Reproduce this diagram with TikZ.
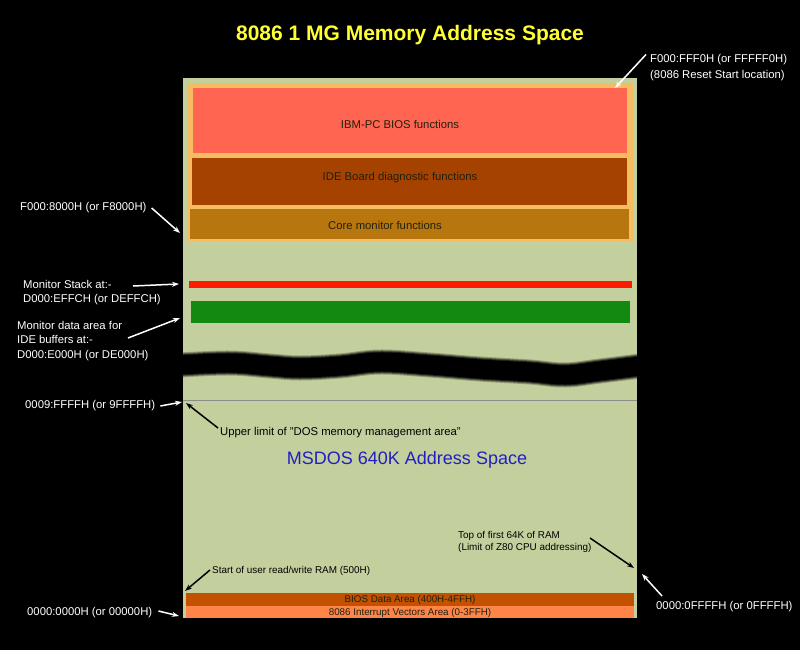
\documentclass[tikz,border=0pt]{standalone}
\usepackage{fontspec}
\setmainfont{Liberation Sans}
\usetikzlibrary{arrows.meta}
\definecolor{panel}{HTML}{C4CF9E}
\definecolor{romband}{HTML}{F6BC62}
\definecolor{biosbox}{HTML}{FF6550}
\definecolor{idebox}{HTML}{A64200}
\definecolor{corebox}{HTML}{B8760E}
\definecolor{stackred}{HTML}{FF1A00}
\definecolor{datagreen}{HTML}{128A12}
\definecolor{biosdata}{HTML}{C25100}
\definecolor{intvec}{HTML}{FF8448}
\definecolor{titleyellow}{HTML}{FFFF33}
\definecolor{dosblue}{HTML}{2020C0}
\definecolor{txtdark}{HTML}{202010}
\begin{document}
\begin{tikzpicture}[x=1pt,y=-1pt,
  wlbl/.style={font=\fontsize{11.3}{14.5}\selectfont, text=white, inner sep=0, align=left},
  dlbl/.style={font=\fontsize{11.3}{14.5}\selectfont, text=black, inner sep=0, align=left},
  slbl/.style={font=\fontsize{9.9}{12.3}\selectfont, text=black, inner sep=0, align=left},
  boxtxt/.style={font=\fontsize{11.3}{13}\selectfont, text=txtdark, inner sep=0},
  sboxtxt/.style={font=\fontsize{9.8}{12}\selectfont, text=txtdark, inner sep=0},
  warrow/.style={draw=white, line width=1.5pt, -{Stealth[length=7pt,width=5pt]}},
  barrow/.style={draw=black, line width=1.5pt, -{Stealth[length=7pt,width=5pt]}},
  smudge/.style={draw=black, line cap=butt}]
\fill[black] (0,0) rectangle (800,650);
\useasboundingbox (0,0) rectangle (800,650);
% title
\node[font=\bfseries\fontsize{21}{24}\selectfont, text=titleyellow, inner sep=0] (title) at (410,35) {8086 1 MG Memory Address Space};
% main panel
\fill[panel] (183,78) rectangle (637,618);
\fill[romband] (187,83) rectangle (633,241);
\fill[biosbox] (193,88) rectangle (627,153);
\fill[idebox] (192,158) rectangle (627,205);
\fill[corebox] (190,209) rectangle (629,239);
\node[boxtxt] (bios) at (400,124) {IBM-PC BIOS functions};
\node[boxtxt] (ide) at (400,178) {IDE Board diagnostic functions};
\node[boxtxt] (core) at (385,225) {Core monitor functions};
\fill[stackred] (189,281) rectangle (632,288);
\fill[datagreen] (191,301) rectangle (630,323);
% break smudge (soft edges)
\begin{scope}
\clip (183,330) rectangle (637,395);
\foreach \w/\o in {25/0.25, 23/0.4, 21/0.6, 19/1} {
  \draw[smudge, line width=\w pt, opacity=\o]
    plot[smooth, tension=0.6] coordinates {(180,365) (230,363) (270,366) (300,368) (340,366) (380,362) (430,365) (480,369) (530,372) (565,375) (600,371) (640,366)};
}
\end{scope}
% DOS limit line
\draw[black!45, line width=1pt] (183,400) -- (637,400);
\node[font=\fontsize{18}{20}\selectfont, text=dosblue, inner sep=0] (dos) at (407,460) {MSDOS 640K Address Space};
% bottom areas
\fill[biosdata] (186,593) rectangle (634,606);
\fill[intvec] (186,606) rectangle (634,618);
\node[sboxtxt] (bda) at (410,599.5) {BIOS Data Area (400H-4FFH)};
\node[sboxtxt] (ivt) at (410,612.5) {8086 Interrupt Vectors Area (0-3FFH)};
% labels inside panel
\node[dlbl, anchor=west] (upper) at (220,433) {Upper limit of "DOS memory management area"};
\node[slbl, anchor=west] (user) at (212,571) {Start of user read/write RAM (500H)};
\node[slbl, anchor=north west] (top64) at (458,531) {Top of first 64K of RAM\\(Limit of Z80 CPU addressing)};
% outside labels
\node[wlbl, anchor=north west] (reset) at (650,54.5) {F000:FFF0H (or FFFFF0H)\\[1.5pt](8086 Reset Start location)};
\node[wlbl, anchor=west] (f8000) at (20,208) {F000:8000H (or F8000H)};
\node[wlbl, anchor=north west] (stack) at (23,280) {Monitor Stack at:-\\D000:EFFCH (or DEFFCH)};
\node[wlbl, anchor=north west] (mdata) at (17,321) {Monitor data area for\\IDE buffers at:-\\D000:E000H (or DE000H)};
\node[wlbl, anchor=west] (dosl) at (25,406) {0009:FFFFH (or 9FFFFH)};
\node[wlbl, anchor=west] (zero) at (27,613) {0000:0000H (or 00000H)};
\node[wlbl, anchor=west] (ffff) at (656,607) {0000:0FFFFH (or 0FFFFH)};
% arrow sources and targets
\coordinate (sStack) at (133,286);
\coordinate (sData) at (128,338);
\coordinate (sFfff) at (662,596);
\coordinate (sUpper) at (218,428);
\coordinate (sUser) at (210,570);
\coordinate (sTop) at (590,538);
\coordinate (tReset) at (615,88);
\coordinate (tF8) at (180,233);
\coordinate (tStack) at (179,284);
\coordinate (tData) at (180,318);
\coordinate (tDos) at (182,402);
\coordinate (tUpper) at (186,403);
\coordinate (tUser) at (185,591);
\coordinate (tTop) at (634,568);
\coordinate (tFfff) at (642,574);
\coordinate (tZero) at (179,616);
% arrows
\draw[warrow] ([xshift=-4pt]reset.north west) -- (tReset);
\draw[warrow] ([xshift=5pt]f8000.east) -- (tF8);
\draw[warrow] (sStack) -- (tStack);
\draw[warrow] (sData) -- (tData);
\draw[warrow] ([xshift=5pt]dosl.east) -- (tDos);
\draw[warrow] ([xshift=6pt,yshift=2pt]zero.east) -- (tZero);
\draw[warrow] (sFfff) -- (tFfff);
\draw[barrow] (sUpper) -- (tUpper);
\draw[barrow] (sUser) -- (tUser);
\draw[barrow] (sTop) -- (tTop);
\end{tikzpicture}
\end{document}
